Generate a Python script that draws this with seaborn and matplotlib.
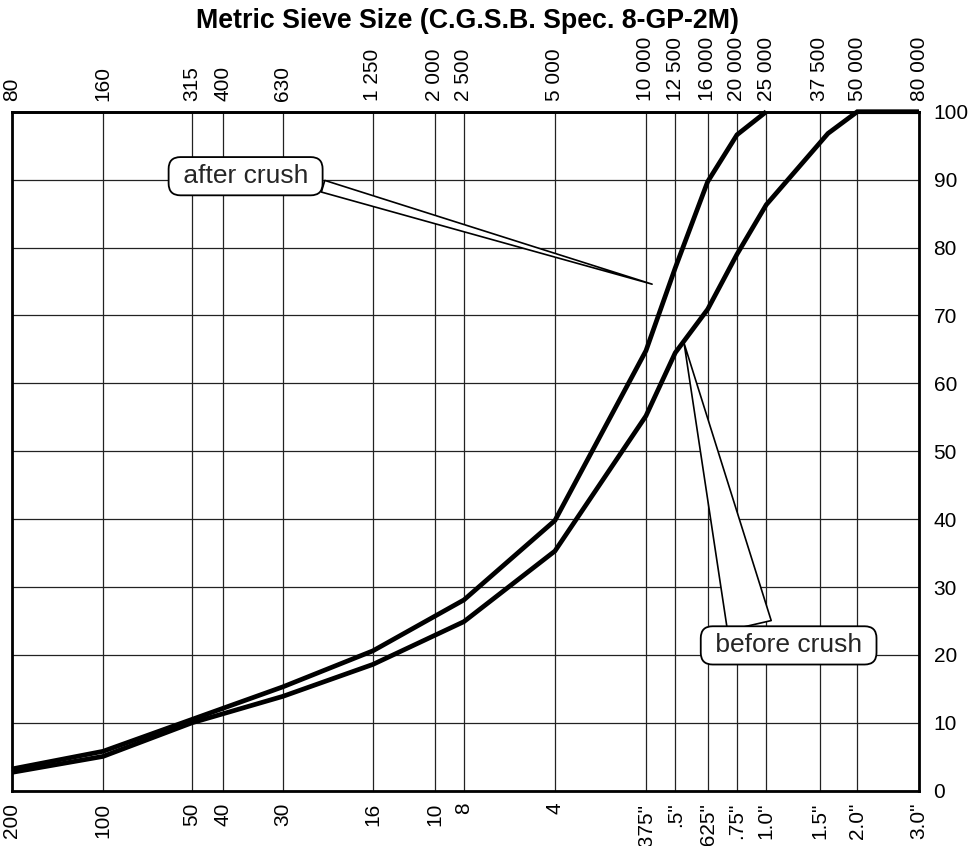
import matplotlib
matplotlib.use("Agg")
import matplotlib.pyplot as plt
import seaborn as sns
import pandas as pd
from matplotlib.ticker import FixedLocator, NullLocator, FixedFormatter

# ---- data ----
sieve_um = [80, 160, 315, 400, 630, 1250, 2000, 2500, 5000, 10000, 12500,
            16000, 20000, 25000, 37500, 50000, 80000]
top_labels = ['80', '160', '315', '400', '630', '1 250', '2 000', '2 500', '5 000',
              '10 000', '12 500', '16 000', '20 000', '25 000', '37 500', '50 000', '80 000']
bottom_labels = ['200', '100', '50', '40', '30', '16', '10', '8', '4', '.375"', '.5"',
                 '.625"', '.75"', '1.0"', '1.5"', '2.0"', '3.0"']
y_ticks = [0, 10, 20, 30, 40, 50, 60, 70, 80, 90, 100]

after_x = [80, 160, 315, 630, 1250, 2500, 5000, 10000, 12500, 16000, 20000, 25000]
after_y = [3.2, 5.8, 10.5, 15.3, 20.6, 28.1, 39.8, 64.8, 77.0, 89.7, 96.6, 100]
before_x = [80, 160, 315, 630, 1250, 2500, 5000, 10000, 12500, 16000, 20000, 25000,
            40000, 50000, 80000]
before_y = [2.7, 5.05, 10.0, 13.9, 18.6, 24.9, 35.3, 55.2, 64.5, 70.9, 79.0, 86.3,
            96.8, 100, 100]

title = 'Metric Sieve Size (C.G.S.B. Spec. 8-GP-2M)'

sns.set_theme(style="white")
plt.rcParams['font.family'] = ['Liberation Sans', 'DejaVu Sans']

df = pd.concat([
    pd.DataFrame({'size': after_x, 'pct': after_y, 'series': 'after crush'}),
    pd.DataFrame({'size': before_x, 'pct': before_y, 'series': 'before crush'}),
])

fig = plt.figure(figsize=(9.8, 8.46), dpi=100)
ax = fig.add_axes([12 / 980, 1 - 790.7 / 846, (919 - 12) / 980, (790.7 - 111.7) / 846])
ax.set_xscale('log')

sns.lineplot(data=df, x='size', y='pct', hue='series', palette=['black', 'black'],
             linewidth=3.4, legend=False, ax=ax, sort=False, estimator=None)
for ln in ax.get_lines():
    ln.set_clip_on(False)
    ln.set_solid_capstyle('butt')
    ln.set_solid_joinstyle('miter')
    ln.set_zorder(3)

ax.set_xlim(80, 80000)
ax.set_ylim(0, 100)
ax.xaxis.set_major_locator(FixedLocator(sieve_um))
ax.xaxis.set_minor_locator(NullLocator())
ax.xaxis.set_major_formatter(FixedFormatter(bottom_labels))
ax.set_yticks(y_ticks)
ax.yaxis.tick_right()
ax.set_xlabel('')
ax.set_ylabel('')
ax.tick_params(axis='x', which='both', length=0, pad=8.5, labelsize=15, labelrotation=90,
               colors='black')
ax.tick_params(axis='y', length=0, pad=10.5, labelsize=15, colors='black')
ax.grid(True, which='major', color='#222222', linewidth=0.9)
ax.set_axisbelow(True)
for sp in ax.spines.values():
    sp.set_visible(True)
    sp.set_color('black')
    sp.set_linewidth(2.0)

sec = ax.secondary_xaxis('top')
sec.xaxis.set_major_locator(FixedLocator(sieve_um))
sec.xaxis.set_minor_locator(NullLocator())
sec.xaxis.set_major_formatter(FixedFormatter(top_labels))
sec.tick_params(axis='x', which='both', length=0, pad=8, labelsize=15, labelrotation=90,
                colors='black')
sec.spines['top'].set_linewidth(2.0)

fig.text(0.477, 1 - 28 / 846, title, ha='center', va='baseline',
         fontsize=19.3, fontweight='bold', color='black')

box = dict(boxstyle='round,pad=0.27,rounding_size=0.45', fc='white', ec='black', lw=1.3)
ax.annotate(' after crush ', xy=(10477, 74.6), xytext=(474, 90.5),
            textcoords='data', ha='center', va='center', fontsize=19, bbox=box,
            arrowprops=dict(arrowstyle='wedge,tail_width=0.46,shrink_factor=0.5',
                            fc='white', ec='black', lw=1.2, relpos=(0.9, 0.35),
                            shrinkA=0, shrinkB=0),
            zorder=5)
ax.annotate(' before crush ', xy=(13368, 65.9), xytext=(29640, 21.4),
            textcoords='data', ha='center', va='center', fontsize=19, bbox=box,
            arrowprops=dict(arrowstyle='wedge,tail_width=1.7,shrink_factor=0.5',
                            fc='white', ec='black', lw=1.2, relpos=(0.285, 0.5),
                            shrinkA=0, shrinkB=0),
            zorder=5)

fig.savefig('out.png', dpi=100)
